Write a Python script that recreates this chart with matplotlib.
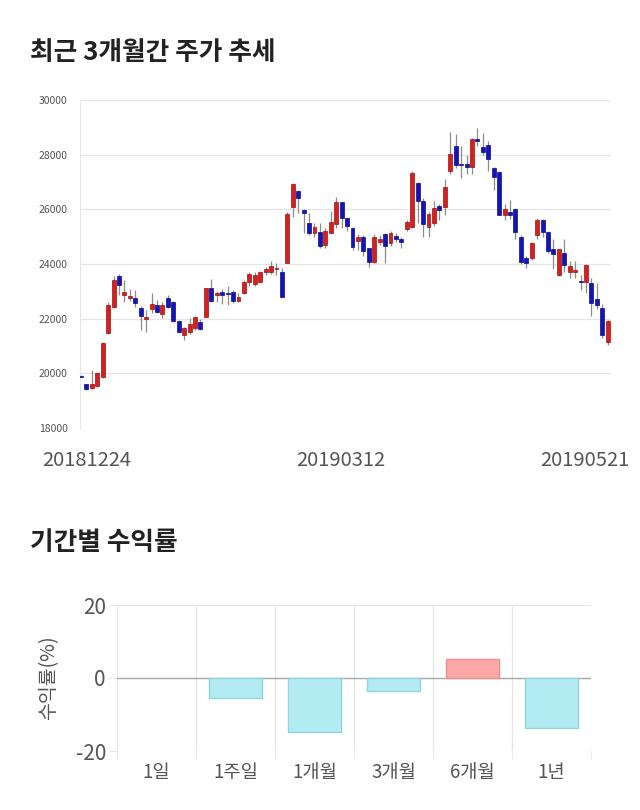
import matplotlib
matplotlib.use("Agg")
import matplotlib.pyplot as plt
import numpy as np

plt.rcParams["font.family"] = ["Noto Sans CJK KR", "DejaVu Sans"]

# candle data, 20181224 .. 20190521
opens = [19920, 19600, 19460, 19530, 19850, 21460, 22440, 23560, 22860, 22740,
         22740, 22400, 22000, 22340, 22500, 22160, 22740, 22610, 21910, 21400,
         21500, 21650, 21890, 22050, 23110, 22870, 22970, 22920, 22970, 22660,
         22950, 23350, 23260, 23350, 23720, 23720, 23800, 23720, 24050, 26100,
         26670, 25980, 25490, 25120, 25180, 24700, 25150, 25450, 26260, 25670,
         25300, 24840, 24970, 24570, 24060, 24820, 25100, 24760, 25020, 24910,
         25270, 25370, 26950, 26300, 25370, 25510, 26120, 26100, 27400, 28320,
         27640, 27660, 27560, 28560, 28270, 28350, 27500, 27360, 25790, 25910,
         26000, 25000, 24210, 24210, 25060, 25610, 25160, 24550, 23600, 24410,
         23720, 23700, 23370, 23350, 23320, 22720, 22380, 21160]
highs = [19950, 19620, 20120, 20050, 21150, 22600, 23550, 23620, 23410, 23100,
         23050, 22450, 22310, 22940, 22700, 22600, 22870, 22650, 21950, 21700,
         22010, 22100, 22000, 23130, 23440, 23000, 23100, 23200, 23050, 22950,
         23400, 23700, 23700, 23750, 23900, 24100, 24050, 23850, 25900, 26950,
         26700, 26000, 25870, 25500, 25500, 25300, 25950, 26460, 26280, 25700,
         25350, 25100, 25050, 24600, 25100, 25050, 25150, 25200, 25150, 25000,
         25600, 27400, 27000, 26400, 25900, 26300, 26200, 27100, 28840, 28760,
         28300, 28000, 28600, 28960, 28800, 28500, 27550, 27400, 26200, 26350,
         26050, 25050, 24300, 24800, 25700, 25650, 25200, 24900, 24560, 24900,
         24100, 24100, 23600, 24000, 23500, 23300, 22550, 21950]
lows = [19850, 19400, 19420, 19500, 19820, 21430, 22380, 22870, 22620, 22650,
        22440, 21580, 21530, 22200, 22200, 22020, 22400, 21880, 21480, 21220,
        21450, 21600, 21580, 22050, 22600, 22600, 22550, 22500, 22580, 22600,
        22900, 23200, 23200, 23300, 23600, 23650, 23600, 22800, 24050, 25730,
        25880, 25120, 25050, 25000, 24600, 24600, 25100, 25300, 25300, 25200,
        24500, 24500, 24300, 23900, 24050, 24700, 24030, 24650, 24800, 24600,
        25200, 25300, 25500, 25000, 25000, 25400, 25600, 25800, 27300, 27500,
        27150, 27300, 27300, 28300, 28000, 27400, 26700, 25790, 25600, 25650,
        24900, 24000, 23850, 24150, 24900, 25000, 24400, 23800, 23550, 23700,
        23500, 23500, 23050, 22950, 22100, 22350, 21300, 21050]
closes = [19860, 19420, 19600, 20000, 21120, 22500, 23420, 23230, 22960, 22830,
          22560, 22100, 22050, 22520, 22260, 22500, 22440, 21900, 21500, 21650,
          21800, 22050, 21610, 23110, 22660, 22940, 22850, 22900, 22660, 22800,
          23350, 23620, 23600, 23720, 23800, 23930, 23840, 22800, 25820, 26920,
          26400, 25860, 25120, 25370, 24660, 25200, 25550, 26280, 25670, 25390,
          24630, 24970, 24490, 24090, 24970, 24910, 24660, 25150, 24900, 24800,
          25530, 27320, 26300, 25460, 25820, 26060, 25980, 26830, 28010, 27620,
          27610, 27560, 28560, 28510, 28110, 27830, 27200, 25790, 26000, 25790,
          25160, 24090, 24050, 24760, 25610, 25160, 24490, 24360, 24540, 23960,
          23930, 23780, 23340, 23960, 22560, 22500, 21400, 21910]
date_labels = ["20181224", "20190312", "20190521"]

# period returns
periods = ["1일", "1주일", "1개월", "3개월", "6개월", "1년"]
returns = [0.0, -5.6, -14.8, -3.6, 5.2, -13.8]

UP = "#d42020"
DOWN = "#1414b8"
GRID = "#e6e6e6"
TXT = "#555555"

fig = plt.figure(figsize=(6.4, 8.1), dpi=100)

# ---- candlestick chart ----
ax = fig.add_axes([80 / 640, 1 - 428 / 810, 531 / 640, 328 / 810])
x = np.arange(len(opens))
o = np.array(opens)
c = np.array(closes)
up = c >= o
cols = np.where(up, UP, DOWN)
edges = np.where(up, "#a01010", "#0a0a90")
ax.vlines(x, lows, highs, color="#8c8c8c", lw=0.9, zorder=2)
bottoms = np.minimum(o, c)
heights = np.maximum(np.abs(c - o), 40)
ax.bar(x, heights, bottom=bottoms, width=0.72, color=cols, edgecolor=edges,
       lw=0.5, zorder=3)

ax.set_xlim(-0.18, 97.6)
ax.set_ylim(18000, 30000)
ax.set_yticks(np.arange(18000, 30001, 2000))
ax.set_yticklabels([str(v) for v in range(18000, 30001, 2000)])
ax.tick_params(axis="y", length=0, labelsize=7.5, colors=TXT, pad=9)
ax.set_xticks([1.0, 47.8, 92.8])
ax.set_xticklabels(date_labels)
ax.tick_params(axis="x", length=0, labelsize=14.5, colors=TXT, pad=16)
ax.grid(axis="y", color=GRID, lw=0.9)
ax.set_axisbelow(True)
for s in ["top", "right", "bottom"]:
    ax.spines[s].set_visible(False)
ax.spines["left"].set_color(GRID)

fig.text(30 / 640, 1 - 52 / 810, "최근 3개월간 주가 추세", fontsize=18.5,
         fontweight="bold", color="#222222", va="center")

# ---- returns bar chart ----
bx = fig.add_axes([117 / 640, 1 - 751 / 810, 474 / 640, 146 / 810])
pos = np.arange(len(periods))
bcols = ["#ffa8a8" if r > 0 else "#b3ebf2" for r in returns]
becols = ["#e89090" if r > 0 else "#92d3de" for r in returns]
blw = [1 if r != 0 else 0 for r in returns]
bx.bar(pos, returns, width=0.68, color=bcols, edgecolor=becols, lw=blw, zorder=3)
bx.set_xlim(-0.5, len(periods) - 0.5)
bx.set_ylim(-20, 20)
bx.set_yticks([-20, 0, 20])
bx.set_yticklabels(["-20", "0", "20"])
bx.set_xticks(pos)
bx.set_xticklabels(periods)
bx.set_xticks(np.arange(-0.5, len(periods)), minor=True)
bx.tick_params(axis="x", which="major", length=0, labelsize=13.5, colors=TXT, pad=8)
bx.tick_params(axis="x", which="minor", length=6, color=GRID)
bx.tick_params(axis="y", length=6, color=GRID, labelsize=15, colors=TXT, pad=2)
bx.grid(axis="x", which="minor", color=GRID, lw=0.9)
bx.grid(axis="y", color=GRID, lw=0.9)
bx.axhline(0, color="#aaaaaa", lw=1, zorder=2)
bx.set_axisbelow(True)
for s in bx.spines.values():
    s.set_visible(False)
bx.set_ylabel("수익률(%)", fontsize=14, color=TXT, labelpad=12)

fig.text(30 / 640, 1 - 543 / 810, "기간별 수익률", fontsize=18.5,
         fontweight="bold", color="#222222", va="center")

fig.savefig("out.png", dpi=100)
